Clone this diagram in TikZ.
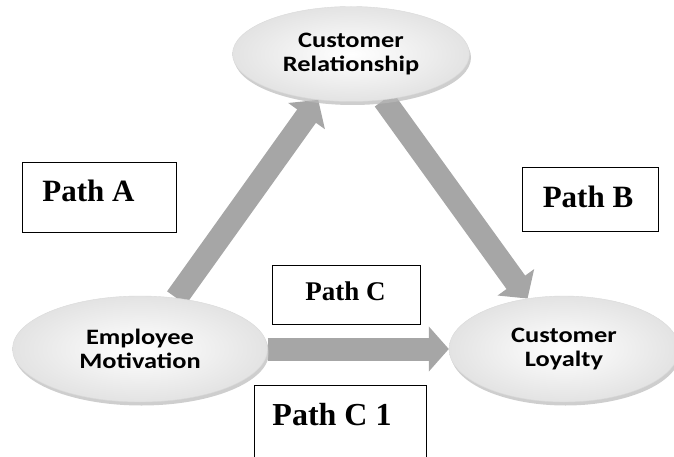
\documentclass[tikz,border=0pt]{standalone}
\usepackage{fontspec}
\setmainfont{Liberation Serif}
\newfontfamily\bubblefont{Carlito}
\usepackage{tikz}
\usetikzlibrary{positioning,arrows.meta,shapes,shadows,backgrounds}
\tikzstyle{bubble}     = [ellipse, inner sep=0pt, shade, inner color=white, outer color=gray!22, draw=gray!30, drop shadow={shadow xshift=1.5pt, shadow yshift=-3.5pt, fill=gray!55, opacity=0.7}, align=center, font=\bubblefont\bfseries\fontsize{22}{24}\selectfont]
\tikzstyle{blockarrow} = [line width=23pt, draw=gray!70, -{Triangle[length=20pt, width=44pt]}]
\tikzstyle{pathbox}    = [draw=black, line width=0.9pt, fill=white, inner sep=0pt]
\tikzstyle{pathlabel}  = [inner sep=0pt, font=\bfseries\fontsize{31}{36}\selectfont]
\newcommand{\widetext}[1]{\scalebox{1.2}[1]{#1}}

\begin{document}
\begin{tikzpicture}[x=1pt,y=-1pt]
		\useasboundingbox (0,0) rectangle (674,457);
		\clip (0,0) rectangle (674,457);

		\node[bubble, minimum width=237pt, minimum height=95pt] (rel) at (351,54) {\widetext{Customer}\\\widetext{Relationship}};
		\node[bubble, minimum width=255pt, minimum height=106pt] (emp) at (140,349) {\widetext{Employee}\\\widetext{Motivation}};
		\node[bubble, minimum width=230pt, minimum height=106pt] (loy) at (564,349) {\widetext{Customer}\\\widetext{Loyalty}};

		\begin{scope}[on background layer]
			\draw[blockarrow] (emp) -- (rel);
			\draw[blockarrow] (rel) -- (loy);
			\draw[blockarrow] (emp) -- (loy);
		\end{scope}

		\node[pathbox, minimum width=154pt, minimum height=70pt] (boxA) at (99,197) {};
		\node[pathbox, minimum width=136pt, minimum height=64pt] (boxB) at (590,199) {};
		\node[pathbox, minimum width=148pt, minimum height=59pt] (boxC) at (346,294.5) {};
		\node[pathbox, minimum width=172pt, minimum height=95pt] (boxC1) at (340,432.5) {};

		\node[pathlabel] (labA) at (88.5,191) {Path A};
		\node[pathlabel] (labB) at (588,196.5) {Path B};
		\node[pathlabel, font=\bfseries\fontsize{27}{32}\selectfont] (labC) at (345.5,291.5) {Path C};
		\node[pathlabel, font=\bfseries\fontsize{32}{38}\selectfont] (labC1) at (332,415) {Path C 1};
	\end{tikzpicture}
\end{document}
